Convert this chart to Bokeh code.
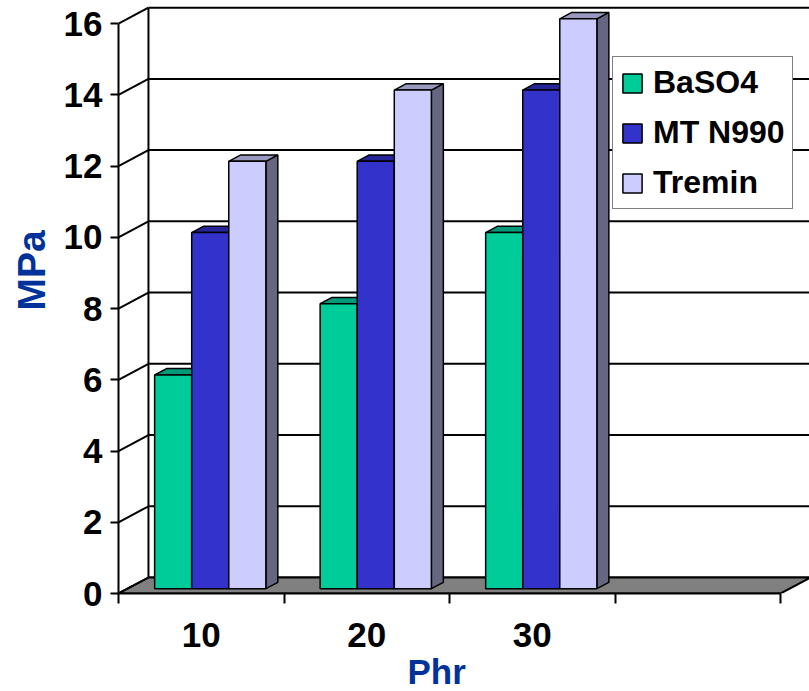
from bokeh.plotting import figure
from bokeh.models import Range1d, FixedTicker, Legend, LegendItem, Title
from bokeh.embed import file_html
from bokeh.resources import INLINE

# ---- data ----
categories = ["10", "20", "30"]
n_slots = 4
series_names = ["BaSO4", "MT N990", "Tremin"]
baso4 = [6, 8, 10]
mt_n990 = [10, 12, 14]
tremin = [12, 14, 16]
y_ticks = [0, 2, 4, 6, 8, 10, 12, 14, 16]
x_title = "Phr"
y_title = "MPa"

series = [baso4, mt_n990, tremin]
front_col = ["#00CC99", "#3333CC", "#CCCCFF"]
top_col = ["#00997A", "#262699", "#9999BF"]
side_col = ["#00664D", "#1A1A66", "#666680"]

# ---- 3D geometry (data units) ----
DX, DY = 0.181, 0.449      # depth of the back wall
BAR_W = 0.224
D0, D1 = 0.3, 0.7          # bar depth span (fraction of wall depth)
X_END = n_slots + 0.175
Y_END = y_ticks[-1] + 0.65

FONT = "Liberation Sans"

p = figure(width=809, height=691,
           x_range=Range1d(0, X_END), y_range=Range1d(0, Y_END),
           output_backend="svg", toolbar_location=None,
           min_border_left=118, min_border_right=0,
           min_border_top=0, min_border_bottom=98)
p.outline_line_color = None
p.grid.visible = False
p.background_fill_color = "white"
p.border_fill_color = "white"

# back wall gridlines, diagonals
ymax = y_ticks[-1]
p.segment(x0=[DX] * len(y_ticks), y0=[t + DY for t in y_ticks],
          x1=[X_END + 1] * len(y_ticks), y1=[t + DY for t in y_ticks],
          line_color="black", line_width=2)
p.segment(x0=[0] * len(y_ticks), y0=y_ticks,
          x1=[DX] * len(y_ticks), y1=[t + DY for t in y_ticks],
          line_color="black", line_width=2)
p.segment(x0=[DX], y0=[DY], x1=[DX], y1=[ymax + DY],
          line_color="black", line_width=2)

# floor
p.patch([0, n_slots, n_slots + DX, DX], [0, 0, DY, DY],
        fill_color="#808080", line_color="black", line_width=2)

ddx = (D1 - D0) * DX
ddy = (D1 - D0) * DY
legend_items = []
for s, vals in enumerate(series):
    xls, xrs, ybs, yts = [], [], [], []
    side_xs, side_ys, top_xs, top_ys = [], [], [], []
    for i, v in enumerate(vals):
        xl = i + 0.5 - 1.5 * BAR_W + s * BAR_W + D0 * DX
        xr = xl + BAR_W
        yb = D0 * DY
        yt = v + D0 * DY
        xls.append(xl); xrs.append(xr); ybs.append(yb); yts.append(yt)
        side_xs.append([xr, xr + ddx, xr + ddx, xr])
        side_ys.append([yb, yb + ddy, yt + ddy, yt])
        top_xs.append([xl, xr, xr + ddx, xl + ddx])
        top_ys.append([yt, yt, yt + ddy, yt + ddy])
    p.patches(side_xs, side_ys, fill_color=side_col[s], line_color="black", line_width=1.5)
    p.patches(top_xs, top_ys, fill_color=top_col[s], line_color="black", line_width=1.5)
    r = p.quad(left=xls, right=xrs, bottom=ybs, top=yts,
               fill_color=front_col[s], line_color="black", line_width=1.5)
    legend_items.append(LegendItem(label=series_names[s], renderers=[r]))

# y axis
ya = p.yaxis[0]
ya.ticker = FixedTicker(ticks=y_ticks, minor_ticks=[])
ya.bounds = (0, ymax)
ya.axis_line_width = 2
ya.axis_line_color = "black"
ya.major_tick_out = 8
ya.major_tick_in = 0
ya.major_tick_line_width = 2
ya.major_tick_line_color = "black"
ya.minor_tick_line_color = None
ya.major_label_standoff = 8
ya.major_label_text_font = FONT
ya.major_label_text_font_style = "bold"
ya.major_label_text_font_size = "35px"
ya.major_label_text_color = "black"

# x axis
xa = p.xaxis[0]
xa.ticker = FixedTicker(ticks=[i + 0.5 for i in range(len(categories))],
                        minor_ticks=list(range(n_slots + 1)))
xa.major_label_overrides = {i + 0.5: c for i, c in enumerate(categories)}
xa.bounds = (0, n_slots)
xa.axis_line_width = 2
xa.axis_line_color = "black"
xa.major_tick_line_color = None
xa.major_tick_out = 0
xa.major_tick_in = 0
xa.minor_tick_out = 10
xa.minor_tick_in = 0
xa.minor_tick_line_width = 2
xa.minor_tick_line_color = "black"
xa.major_label_standoff = 19
xa.major_label_text_font = FONT
xa.major_label_text_font_style = "bold"
xa.major_label_text_font_size = "35px"
xa.major_label_text_color = "black"

# axis titles
p.add_layout(Title(text=y_title, align="left", offset=283, standoff=15,
                   text_font=FONT, text_font_style="bold",
                   text_font_size="39px", text_color="#003399"), "left")
p.add_layout(Title(text=x_title, align="left", offset=289, standoff=0,
                   text_font=FONT, text_font_style="bold",
                   text_font_size="35px", text_color="#003399"), "below")

legend = Legend(items=legend_items, location=(494, 384),
                label_text_font=FONT, label_text_font_style="bold",
                label_text_font_size="32px", label_text_color="black",
                glyph_width=24, glyph_height=24, label_standoff=9,
                spacing=13, padding=7, margin=0,
                border_line_color="black", border_line_width=1.5,
                background_fill_color="white", background_fill_alpha=1.0)
p.add_layout(legend)

open("out.html", "w").write(file_html(p, INLINE))
